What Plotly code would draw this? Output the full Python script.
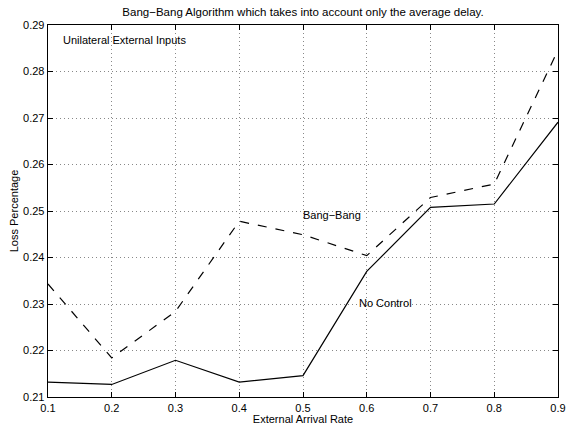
import plotly.graph_objects as go

arrival_rate = [0.1, 0.2, 0.3, 0.4, 0.5, 0.6, 0.7, 0.8, 0.9]
no_control = [0.2132, 0.2127, 0.2179, 0.2132, 0.2146, 0.2370, 0.2508, 0.2515, 0.2691]
bang_bang = [0.2343, 0.2184, 0.2284, 0.2478, 0.2449, 0.2404, 0.2529, 0.2558, 0.2846]

title_text = "Bang\u2212Bang Algorithm which takes into account only the average delay."
x_ticks = [0.1, 0.2, 0.3, 0.4, 0.5, 0.6, 0.7, 0.8, 0.9]
y_ticks = [0.21, 0.22, 0.23, 0.24, 0.25, 0.26, 0.27, 0.28, 0.29]

font_family = "Liberation Sans, Arial, Helvetica, sans-serif"

FIG_W, FIG_H = 569, 428

fig = go.Figure()
fig.add_trace(go.Scatter(x=arrival_rate, y=no_control, mode="lines",
                         line=dict(color="black", width=1.2), name="No Control"))
fig.add_trace(go.Scatter(x=arrival_rate, y=bang_bang, mode="lines",
                         line=dict(color="black", width=1.2, dash="dash"), name="Bang-Bang"))

annotations = [
    dict(x=0.123, y=0.2868, text="Unilateral External Inputs"),
    dict(x=0.5, y=0.2491, text="Bang\u2212Bang"),
    dict(x=0.5875, y=0.2302, text="No Control"),
]
for a in annotations:
    fig.add_annotation(x=a["x"], y=a["y"], text=a["text"], showarrow=False,
                       xanchor="left", yanchor="middle", xshift=-2,
                       font=dict(size=11, color="black", family=font_family))

axis_common = dict(
    showline=True, linecolor="black", linewidth=1.3, mirror="allticks",
    ticks="inside", ticklen=5, tickcolor="black", tickwidth=1,
    showgrid=True, gridcolor="#888888", griddash="1px,3px", gridwidth=1,
    zeroline=False, automargin=False, ticklabeloverflow="allow",
    tickfont=dict(size=11, color="black", family=font_family),
)

fig.update_layout(
    width=FIG_W, height=FIG_H,
    margin=dict(l=48, r=11, t=25, b=31),
    paper_bgcolor="white", plot_bgcolor="white",
    showlegend=False,
    title=dict(text=title_text, x=0.5, xref="paper", xanchor="center",
               yref="container", y=1 - 12 / FIG_H, yanchor="middle",
               font=dict(size=11.5, color="black", family=font_family)),
    xaxis=dict(range=[0.1, 0.9], tickvals=x_ticks, ticktext=[f"{v:g}" for v in x_ticks],
               title=dict(text="External Arrival Rate", standoff=0,
                          font=dict(size=11, color="black", family=font_family)),
               ticklabelstandoff=0,
               **axis_common),
    yaxis=dict(range=[0.21, 0.29], tickvals=y_ticks, ticktext=[f"{v:.2f}" for v in y_ticks],
               title=dict(text="Loss Percentage", standoff=2,
                          font=dict(size=11, color="black", family=font_family)),
               **axis_common),
)

fig.write_html("out.html",
               config={"displayModeBar": False, "staticPlot": True},
               post_script="document.body.style.margin='0';document.body.style.overflow='hidden';")
